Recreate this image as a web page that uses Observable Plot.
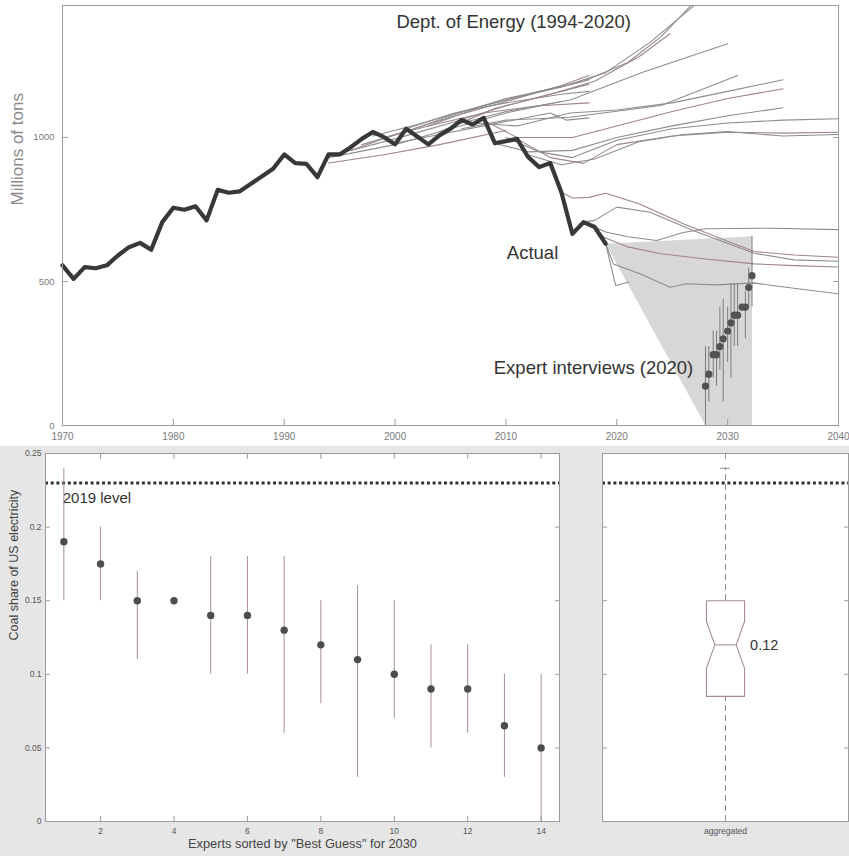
<!DOCTYPE html>
<html>
<head>
<meta charset="utf-8">
<script src="https://cdn.jsdelivr.net/npm/d3@7"></script>
<script src="https://cdn.jsdelivr.net/npm/@observablehq/plot@0.6"></script>
<style>
  body { margin: 0; background: #fff; }
  #fig { position: relative; width: 849px; height: 856px; overflow: hidden; background: #fff;
         font-family: "Liberation Sans", Arial, Helvetica, sans-serif; }
  #top { position: absolute; left: 0; top: 0; }
  #bottom { position: absolute; left: 0; top: 446px; width: 849px; height: 410px; background: #e6e6e6; }
  #shares { position: absolute; left: 0; top: 0; }
  #agg { position: absolute; left: 560px; top: 0; }
  svg { display: block; }
</style>
</head>
<body>
<div id="fig">
  <div id="top"></div>
  <div id="bottom">
    <div id="shares"></div>
    <div id="agg"></div>
  </div>
</div>
<script>
// ---------- Coal consumption, millions of tons ----------
const years = [1970,1971,1972,1973,1974,1975,1976,1977,1978,1979,
               1980,1981,1982,1983,1984,1985,1986,1987,1988,1989,
               1990,1991,1992,1993,1994,1995,1996,1997,1998,1999,
               2000,2001,2002,2003,2004,2005,2006,2007,2008,2009,
               2010,2011,2012,2013,2014,2015,2016,2017,2018,2019];
const actualTons = [556,509,550,546,556,590,619,634,610,706,
                    756,749,761,712,818,808,813,839,865,891,
                    941,911,908,862,941,941,966,995,1019,1001,
                    976,1030,1003,976,1007,1030,1061,1045,1068,980,
                    987,995,932,897,911,810,665,706,689,631];

// Dept. of Energy outlooks, each one a path of [year, tons]
const doeEarly = [
  [[1994,911],[1999,940],[2004,975],[2010,1024]],
  [[1994,930],[2000,975],[2005,1030],[2010,1085],[2015,1125]],
  [[1995,945],[2000,995],[2005,1050],[2010,1110],[2015,1160],[2017.5,1185]],
  [[1996,955],[2000,1010],[2005,1070],[2010,1125],[2015,1180],[2017.5,1215]],
  [[1997,975],[2001,1020],[2005,1075],[2010,1135],[2015,1175],[2017.5,1200]],
  [[1998,1005],[2002,1045],[2006,1090],[2010,1120],[2015,1150],[2017.5,1160]],
  [[1999,1000],[2003,1040],[2008,1085],[2013,1110],[2017.5,1120]],
  [[2000,980],[2004,1010],[2008,1040],[2012,1070],[2014,1085],[2015.5,1060],[2017.5,1068]]
];
const doeSteep = [
  [[2001,1030],[2005,1080],[2010,1130],[2015,1175],[2019,1225],[2023,1330],[2027.5,1475]],
  [[2003,1040],[2008,1110],[2013,1160],[2017,1195],[2021,1260],[2024,1350],[2027,1470]],
  [[2004,1020],[2009,1100],[2014,1150],[2018,1195],[2022,1280],[2024.8,1360]],
  [[2005,1040],[2010,1090],[2015.8,1130],[2022.4,1227],[2030,1325]],
  [[2006,1030],[2010,1060],[2015.8,1070],[2024,1111],[2030.9,1215]]
];
const doeMid = [
  [[2007,1050],[2011,1040],[2015.8,1085],[2020,1095],[2025,1120],[2030,1160],[2035,1200]],
  [[2008,1060],[2011,1000],[2016,1000],[2020,1040],[2025,1090],[2030,1135],[2035,1169]],
  [[2009,980],[2012,950],[2016,955],[2020,1000],[2025,1040],[2030,1075],[2035,1103]],
  [[2010,1000],[2013,950],[2016,930],[2020,990],[2025,1030],[2030,1050],[2035,1060],[2040,1065]],
  [[2011,995],[2014,930],[2017,910],[2020,975],[2025,1005],[2030,1018],[2035,1015],[2040,1018]],
  [[2012,940],[2015,905],[2018,925],[2022,985],[2026,1010],[2030,1020],[2035,1005],[2040,1010]]
];
const doeLate = [
  [[2015,810],[2016,790],[2017.5,792],[2019,806],[2022,770],[2026,700],[2030,640],[2032.4,604],[2036,592],[2040,584]],
  [[2017,706],[2018,712],[2020,758],[2023,740],[2027,675],[2032.4,598],[2036,575],[2040,570]],
  [[2018,689],[2019,672],[2021,655],[2023.6,642],[2026,670],[2028,683],[2034,685],[2040,680]],
  [[2018,689],[2018.8,654],[2021,620],[2024,596],[2028,578],[2032.4,561],[2036,555],[2040,550]],
  [[2019,631],[2019.7,561],[2022.1,527],[2024.8,480],[2026.3,492],[2029,488],[2032.4,495],[2034,486],[2040,457]],
  [[2019,631],[2019.9,486],[2021.1,498]]
];

// ---------- Expert interviews (2020), sorted by best guess for 2030 ----------
const expertRank = [1,2,3,4,5,6,7,8,9,10,11,12,13,14];
const bestGuess  = [0.19,0.175,0.15,0.15,0.14,0.14,0.13,0.12,0.11,0.10,0.09,0.09,0.065,0.05];
const lowGuess   = [0.15,0.15,0.11,0.15,0.10,0.10,0.06,0.08,0.03,0.07,0.05,0.06,0.03,0.00];
const highGuess  = [0.24,0.20,0.17,0.15,0.18,0.18,0.18,0.15,0.16,0.15,0.12,0.12,0.10,0.10];
// same answers expressed as tons, spread over the years around 2030
const expertYear     = [2032.2,2031.9,2031.6,2031.3,2030.9,2030.6,2030.3,2030.0,2029.6,2029.3,2029.0,2028.7,2028.3,2028.0];
const expertTons     = [520,479,411,411,383,383,356,328,301,274,246,246,178,137];
const expertTonsLow  = [411,411,301,411,274,274,164,219,82,192,137,164,82,0];
const expertTonsHigh = [657,547,465,411,493,493,493,411,438,411,328,328,274,274];

// aggregated distribution
const level2019 = 0.23;
const aggQ1 = 0.085, aggMedian = 0.12, aggQ3 = 0.15;
const aggNotchLow = 0.104, aggNotchHigh = 0.136;
const aggWhiskerLow = 0, aggWhiskerHigh = 0.24;

// ticks
const yearTicks = [1970,1980,1990,2000,2010,2020,2030,2040];
const tonTicks = [0,500,1000];
const rankTicks = [2,4,6,8,10,12,14];
const shareTicks = [0,0.05,0.1,0.15,0.2,0.25];

// ---------- shared helpers ----------
const fontFamily = "'Liberation Sans', Arial, Helvetica, sans-serif";
const frameGray = "#9c9c9c";

function inwardTicks(xTicks, yTicks, {top = true, size = 5} = {}) {
  const marks = [
    Plot.axisX({ticks: xTicks, anchor: "bottom", tickSize: -size, fill: "none", stroke: frameGray, label: null}),
    Plot.axisY({ticks: yTicks, anchor: "left", tickSize: -size, fill: "none", stroke: frameGray, label: null}),
    Plot.axisY({ticks: yTicks, anchor: "right", tickSize: -size, fill: "none", stroke: frameGray, label: null})
  ];
  if (top) marks.push(Plot.axisX({ticks: xTicks, anchor: "top", tickSize: -size, fill: "none", stroke: frameGray, label: null}));
  return marks;
}

// ---------- top: history and projections ----------
const actual = years.map((year, i) => ({year, tons: actualTons[i]}));

const projRows = [];
[doeEarly, doeSteep, doeMid, doeLate].forEach((group, g) => {
  group.forEach((path, i) => {
    const tone = (i + g) % 3 === 0 ? "#9e8686" : "#8d8d8d";
    path.forEach(([year, tons]) => projRows.push({id: `${g}-${i}`, year, tons, tone}));
  });
});

const experts = expertRank.map((rank, i) => ({
  rank, best: bestGuess[i], low: lowGuess[i], high: highGuess[i],
  year: expertYear[i], tons: expertTons[i], tonsLow: expertTonsLow[i], tonsHigh: expertTonsHigh[i]
}));

const lastActual = actual[actual.length - 1];
const envelope = [
  {year: lastActual.year, tons: lastActual.tons},
  {year: d3.max(expertYear), tons: d3.max(expertTonsHigh)},
  {year: d3.max(expertYear), tons: d3.min(expertTonsLow)},
  {year: d3.min(expertYear), tons: d3.min(expertTonsLow)},
  {year: lastActual.year, tons: lastActual.tons}
];

const topChart = Plot.plot({
  width: 849, height: 446,
  marginLeft: 62, marginRight: 11, marginTop: 5, marginBottom: 21,
  style: {background: "transparent", fontFamily, overflow: "visible"},
  x: {domain: [1970, 2040]},
  y: {domain: [0, 1458]},
  color: {type: "identity"},
  marks: [
    Plot.line(envelope, {x: "year", y: "tons", fill: "#d7d7d7", stroke: "none"}),
    Plot.line(projRows, {x: "year", y: "tons", z: "id", stroke: "tone", strokeWidth: 1.1, clip: true}),
    Plot.line(actual, {x: "year", y: "tons", stroke: "#383838", strokeWidth: 4.2, strokeLinejoin: "round"}),
    Plot.ruleX(experts, {x: "year", y1: "tonsLow", y2: "tonsHigh", stroke: "#707070", strokeWidth: 0.9}),
    Plot.dot(experts, {x: "year", y: "tons", r: 3.6, fill: "#525252", stroke: "none"}),
    Plot.text(["Dept. of Energy (1994-2020)"], {text: d => d, x: 2010.7, y: 1400, fontSize: 18.5, fill: "#333"}),
    Plot.text(["Actual"], {text: d => d, x: 2012.4, y: 597, fontSize: 18.5, fill: "#333"}),
    Plot.text(["Expert interviews (2020)"], {text: d => d, x: 2017.9, y: 198, fontSize: 18.5, fill: "#333"}),
    ...inwardTicks(yearTicks, tonTicks, {top: false, size: 6}),
    Plot.axisX({ticks: yearTicks, tickSize: 0, tickPadding: 7, stroke: "none", fill: "#7a7a7a", fontSize: 10, tickFormat: d => `${d}`, label: null}),
    Plot.axisY({ticks: tonTicks, tickSize: 0, tickPadding: 8, stroke: "none", fill: "#7a7a7a", fontSize: 9.5, tickFormat: d => `${d}`, label: null}),
    Plot.text(["Millions of tons"], {text: d => d, frameAnchor: "left", dx: -45, dy: -10, rotate: -90, fontSize: 17, fill: "#8a8a8a"}),
    Plot.frame({stroke: frameGray})
  ]
});
document.getElementById("top").append(topChart);

// ---------- bottom left: each expert's guess for 2030 ----------
const dotted = {stroke: "#333", strokeWidth: 3, strokeDasharray: "3,2.7"};

const sharesChart = Plot.plot({
  width: 560, height: 410,
  marginLeft: 45, marginRight: 1, marginTop: 7, marginBottom: 35,
  style: {background: "transparent", fontFamily, overflow: "visible"},
  x: {domain: [0.5, 14.5]},
  y: {domain: [0, 0.25]},
  marks: [
    Plot.frame({fill: "white", stroke: "none"}),
    Plot.ruleY([level2019], dotted),
    Plot.text(["2019 level"], {text: d => d, x: 0.97, y: 0.2195, textAnchor: "start", fontSize: 15, fill: "#333"}),
    Plot.ruleX(experts, {x: "rank", y1: "low", y2: "high", stroke: "#a88f8f", strokeWidth: 1}),
    Plot.dot(experts, {x: "rank", y: "best", r: 3.7, fill: "#4d4d4d", stroke: "none"}),
    ...inwardTicks(rankTicks, shareTicks, {size: 5}),
    Plot.axisX({ticks: rankTicks, tickSize: 0, tickPadding: 6, stroke: "none", fill: "#555", fontSize: 8.5, tickFormat: d => `${d}`, label: null}),
    Plot.axisY({ticks: shareTicks, tickSize: 0, tickPadding: 4, stroke: "none", fill: "#555", fontSize: 8.5, tickFormat: d => `${d}`, label: null}),
    Plot.text(['Experts sorted by "Best Guess" for 2030'], {text: d => d, frameAnchor: "bottom", dy: 26, fontSize: 12.8, fill: "#444"}),
    Plot.text(["Coal share of US electricity"], {text: d => d, frameAnchor: "left", dx: -32, dy: 3, rotate: -90, fontSize: 12.5, fill: "#444"}),
    Plot.frame({stroke: frameGray})
  ]
});
document.getElementById("shares").append(sharesChart);

// ---------- bottom right: aggregated notched box ----------
const boxHalf = 0.155, notchHalf = 0.087, capHalf = 0.04, center = 1;
const notchOutline = [
  [center - boxHalf, aggQ3], [center + boxHalf, aggQ3], [center + boxHalf, aggNotchHigh],
  [center + notchHalf, aggMedian], [center + boxHalf, aggNotchLow], [center + boxHalf, aggQ1],
  [center - boxHalf, aggQ1], [center - boxHalf, aggNotchLow], [center - notchHalf, aggMedian],
  [center - boxHalf, aggNotchHigh], [center - boxHalf, aggQ3]
].map(([x, y]) => ({x, y}));
const whiskers = [{y1: aggQ3, y2: aggWhiskerHigh}, {y1: aggWhiskerLow, y2: aggQ1}];
const boxStroke = "#a68e8e";

const aggChart = Plot.plot({
  width: 289, height: 410,
  marginLeft: 42, marginRight: 1, marginTop: 7, marginBottom: 35,
  style: {background: "transparent", fontFamily, overflow: "visible"},
  x: {domain: [0, 2]},
  y: {domain: [0, 0.25]},
  marks: [
    Plot.frame({fill: "white", stroke: "none"}),
    Plot.ruleY([level2019], dotted),
    Plot.ruleX(whiskers, {x: center, y1: "y1", y2: "y2", stroke: "#8a8a8a", strokeWidth: 1, strokeDasharray: "6,4"}),
    Plot.ruleY([aggWhiskerHigh], {x1: center - capHalf, x2: center + capHalf, stroke: "#8a8a8a", strokeWidth: 1}),
    Plot.line(notchOutline, {x: "x", y: "y", stroke: boxStroke, strokeWidth: 1.1, fill: "white"}),
    Plot.ruleY([aggMedian], {x1: center - notchHalf, x2: center + notchHalf, stroke: boxStroke, strokeWidth: 1.1}),
    Plot.text([aggMedian], {text: d => `${d}`, x: center + 0.2, y: d => d, textAnchor: "start", fontSize: 14.5, fill: "#333"}),
    ...inwardTicks([center], shareTicks, {size: 5}),
    Plot.axisX({ticks: [center], tickSize: 0, tickPadding: 6, stroke: "none", fill: "#555", fontSize: 8.5, tickFormat: () => "aggregated", label: null}),
    Plot.frame({stroke: frameGray})
  ]
});
document.getElementById("agg").append(aggChart);
</script>
</body>
</html>
